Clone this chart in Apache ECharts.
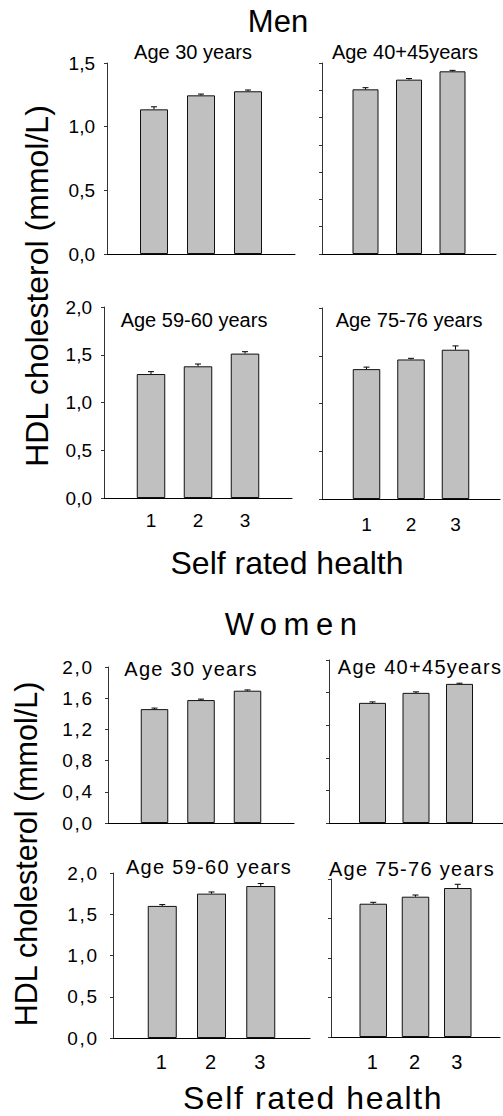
<!DOCTYPE html>
<html><head><meta charset="utf-8">
<script src="https://cdn.jsdelivr.net/npm/echarts@6/dist/echarts.min.js"></script>
<style>html,body{margin:0;padding:0;background:#fff}#main{width:503px;height:1116px}</style>
</head><body><div id="main"></div>
<script>
// ---- data ----
const healthLevels = [1, 2, 3];
const xTickLabels = ['1', '2', '3'];
const panelTitles = ['Age 30 years', 'Age 40+45years', 'Age 59-60 years', 'Age 75-76 years'];
const men30 = [1.136, 1.246, 1.278];
const men30Err = [0.02, 0.01, 0.01];
const men4045 = [1.207, 1.278, 1.339];
const men4045Err = [0.012, 0.008, 0.007];
const men5960 = [1.298, 1.379, 1.512];
const men5960Err = [0.025, 0.024, 0.02];
const men7576 = [1.360, 1.461, 1.563];
const men7576Err = [0.021, 0.012, 0.04];
const women30 = [1.460, 1.576, 1.696];
const women30Err = [0.013, 0.012, 0.01];
const women4045 = [1.474, 1.597, 1.707];
const women4045Err = [0.012, 0.012, 0.008];
const women5960 = [1.601, 1.750, 1.842];
const women5960Err = [0.016, 0.02, 0.03];
const women7576 = [1.687, 1.776, 1.886];
const women7576Err = [0.018, 0.021, 0.047];

// ---- layout ----
const FONT = '"Liberation Sans", Arial, sans-serif';
const panels = [
  {grid:{left:107, top:63, width:188, height:191}, max:1.5, interval:0.5, yLabels:true, yMargin:12, xLabels:false, vals:men30, errs:men30Err, barW:28},
  {grid:{left:322, top:63, width:174, height:191}, max:1.4, interval:0.2, yLabels:false, xLabels:false, vals:men4045, errs:men4045Err, barW:26},
  {grid:{left:104, top:307, width:188, height:191}, max:2.0, interval:0.5, yLabels:true, yMargin:12, xLabels:true, xMargin:13, vals:men5960, errs:men5960Err, barW:28.5},
  {grid:{left:322, top:308, width:183, height:191}, max:2.0, interval:0.5, yLabels:false, xLabels:true, xMargin:16, vals:men7576, errs:men7576Err, barW:27.5},
  {grid:{left:108, top:667, width:186, height:156}, max:2.0, interval:0.4, yLabels:true, yMargin:14, xLabels:false, vals:women30, errs:women30Err, barW:27.5, women:true},
  {grid:{left:329, top:660, width:180, height:163}, max:2.0, interval:0.4, yLabels:false, xLabels:false, vals:women4045, errs:women4045Err, barW:27, women:true},
  {grid:{left:113, top:873, width:197, height:165}, max:2.0, interval:0.5, yLabels:true, yMargin:14, xLabels:true, xMargin:14, vals:women5960, errs:women5960Err, barW:29, women:true},
  {grid:{left:331, top:879, width:182, height:158}, max:2.0, interval:0.5, yLabels:false, xLabels:true, xMargin:15, vals:women7576, errs:women7576Err, barW:27.5, women:true}
];

const grids = [], xAxes = [], yAxes = [], series = [];
panels.forEach((p, i) => {
  grids.push(Object.assign({containLabel:false}, p.grid));
  xAxes.push({
    type:'value', gridIndex:i, min:0, max:4, interval:1,
    axisLine:{show:true, onZero:true, lineStyle:{color:'#000', width:1}},
    axisTick:{show:false}, splitLine:{show:false},
    axisLabel:{show:p.xLabels, margin:p.xMargin || 12, color:'#000', fontSize:p.women ? 20 : 19, fontFamily:FONT,
      formatter:v => xTickLabels[healthLevels.indexOf(v)] || ''}
  });
  yAxes.push({
    type:'value', gridIndex:i, min:0, max:p.max, interval:p.interval,
    axisLine:{show:true, lineStyle:{color:'#333', width:1}},
    axisTick:{show:true, length:3, lineStyle:{color:'#333'}},
    splitLine:{show:false},
    axisLabel:{show:p.yLabels, margin:p.yMargin || 12, color:'#000', fontSize:19, fontFamily:FONT,
      formatter:v => v.toFixed(1).replace('.', ',')}
  });
  series.push({
    type:'bar', xAxisIndex:i, yAxisIndex:i, barWidth:p.barW,
    itemStyle:{color:'#c0c0c0', borderColor:'#111', borderWidth:1},
    data:healthLevels.map((h, k) => [h, p.vals[k]]), z:2
  });
  series.push({
    type:'custom', xAxisIndex:i, yAxisIndex:i, z:3,
    data:healthLevels.map((h, k) => [h, p.vals[k], p.errs[k]]),
    renderItem:(params, api) => {
      const x = api.value(0), v = api.value(1), e = api.value(2);
      const a = api.coord([x, v]), b = api.coord([x, v + e]);
      return {type:'group', children:[
        {type:'line', shape:{x1:a[0], y1:a[1], x2:b[0], y2:b[1]}, style:{stroke:'#000', lineWidth:1}},
        {type:'line', shape:{x1:b[0]-3, y1:b[1], x2:b[0]+3, y2:b[1]}, style:{stroke:'#000', lineWidth:1}}
      ]};
    }
  });
});

function txt(text, x, y, size, rot) {
  return {type:'text', x:x, y:y, rotation:rot || 0, silent:true,
    style:{text:text, fontSize:size, fontFamily:FONT, fill:'#000',
      textAlign:'center', textVerticalAlign:'middle', align:'center', verticalAlign:'middle'}};
}
const yName = 'HDL cholesterol (mmol/L)';
const xName = 'Self rated health';
const graphics = [
  txt('Men', 278, 21, 31),
  txt(panelTitles[0], 193, 52, 20),
  txt(panelTitles[1], 405, 52, 20),
  txt(panelTitles[2], 194, 320, 20),
  txt(panelTitles[3], 409, 320, 20),
  txt(yName, 37, 286, 32, Math.PI/2),
  txt(xName, 287, 563, 32),
  txt('Women', 294, 624, 31),
  txt(panelTitles[0], 191, 669, 20),
  txt(panelTitles[1], 420, 667, 20),
  txt(panelTitles[2], 209, 867, 20),
  txt(panelTitles[3], 412, 869, 20),
  txt(yName, 26, 854, 30.5, Math.PI/2),
  txt(xName, 313, 1098, 32)
];

const chart = echarts.init(document.getElementById('main'), null, {renderer:'svg'});
chart.setOption({
  animation:false, backgroundColor:'#fff',
  grid:grids, xAxis:xAxes, yAxis:yAxes, series:series, graphic:graphics
});

// letter spacing used by the lower (Women) half of the figure
function applySpacing() {
  document.querySelectorAll('#main text').forEach(t => {
    let bb; try { bb = t.getBBox(); } catch (e) { return; }
    const tr = t.getCTM ? t.getCTM() : null;
    const cy = tr ? tr.f + bb.y * tr.d : bb.y;
    const s = t.textContent;
    if (cy < 600 || s === yName) return;
    let sp = 1.8;
    if (s === 'Women') sp = 6.5;
    else if (s === xName) sp = 1.6;
    else if (s.indexOf('Age') === 0) sp = 1.3;
    t.style.letterSpacing = sp + 'px';
  });
}
applySpacing();
chart.on('finished', applySpacing);
</script></body></html>
